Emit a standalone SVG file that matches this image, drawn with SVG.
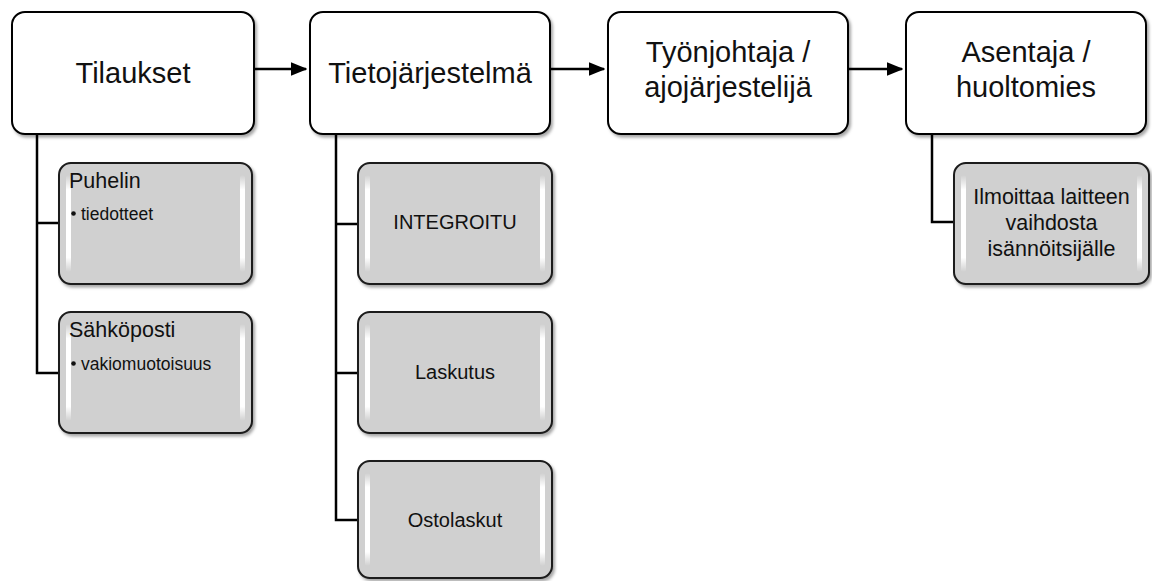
<svg xmlns="http://www.w3.org/2000/svg" width="1152" height="581" viewBox="0 0 1152 581">
  <defs>
    <filter id="shadow" x="-10%" y="-10%" width="125%" height="125%">
      <feDropShadow dx="2" dy="2.5" stdDeviation="1.5" flood-color="#000" flood-opacity="0.35"/>
    </filter>
    <linearGradient id="gloss" x1="0" y1="0" x2="0" y2="1">
      <stop offset="0" stop-color="#fff" stop-opacity="0"/>
      <stop offset="0.15" stop-color="#fff" stop-opacity="1"/>
      <stop offset="0.85" stop-color="#fff" stop-opacity="1"/>
      <stop offset="1" stop-color="#fff" stop-opacity="0"/>
    </linearGradient>
    <marker id="arrow" viewBox="0 0 12 10" refX="11" refY="5" markerWidth="6.6" markerHeight="5.6" orient="auto" markerUnits="strokeWidth">
      <path d="M0,0 L12,5 L0,10 z" fill="#000"/>
    </marker>
  </defs>
  <style>
    .main { fill: #fff; stroke: #000; stroke-width: 2; }
    .sub { fill: #d0d0d0; stroke: #1a1a1a; stroke-width: 2; }
    .hl { fill: url(#gloss); }
    .conn { fill: none; stroke: #000; stroke-width: 2.5; }
    .flow { fill: none; stroke: #000; stroke-width: 2.5; marker-end: url(#arrow); }
    text { font-family: "Liberation Sans", Arial, sans-serif; fill: #111; }
    .big { font-size: 29px; text-anchor: middle; }
    .mid { font-size: 20px; text-anchor: middle; }
    .two { font-size: 21.5px; text-anchor: middle; }
    .head { font-size: 21.5px; }
    .bul { font-size: 17.5px; }
    .dot { fill: #111; }
  </style>

  <!-- connectors -->
  <g id="connectors">
    <path class="flow" d="M254,69 H306"/>
    <path class="flow" d="M550,69 H604"/>
    <path class="flow" d="M848,69 H902"/>
    <path class="conn" d="M37,134 V373 H59 M37,223 H59"/>
    <path class="conn" d="M336,134 V520 H358 M336,224 H358 M336,373 H358"/>
    <path class="conn" d="M932,134 V222 H954"/>
  </g>

  <!-- top level -->
  <g id="tilaukset">
    <rect class="main" filter="url(#shadow)" x="12" y="12" width="242" height="122" rx="13"/>
    <text class="big" x="133" y="83">Tilaukset</text>
  </g>
  <g id="tietojarjestelma">
    <rect class="main" filter="url(#shadow)" x="310" y="12" width="240" height="122" rx="13"/>
    <text class="big" x="430" y="83">Tietojärjestelmä</text>
  </g>
  <g id="tyonjohtaja">
    <rect class="main" filter="url(#shadow)" x="608" y="12" width="240" height="122" rx="13"/>
    <text class="big" x="728" y="62">Työnjohtaja /</text>
    <text class="big" x="728" y="97">ajojärjestelijä</text>
  </g>
  <g id="asentaja">
    <rect class="main" filter="url(#shadow)" x="906" y="12" width="240" height="122" rx="13"/>
    <text class="big" x="1026" y="62">Asentaja /</text>
    <text class="big" x="1026" y="97">huoltomies</text>
  </g>

  <!-- Tilaukset children -->
  <g id="puhelin">
    <rect class="sub" filter="url(#shadow)" x="59" y="163" width="193" height="121" rx="12"/>
    <rect class="hl" x="66" y="175" width="5" height="97" rx="2.5"/>
    <rect class="hl" x="240" y="175" width="5" height="97" rx="2.5"/>
    <text class="head" x="69" y="188">Puhelin</text>
    <circle class="dot" cx="73.5" cy="213.5" r="2.3"/>
    <text class="bul" x="81" y="220">tiedotteet</text>
  </g>
  <g id="sahkoposti">
    <rect class="sub" filter="url(#shadow)" x="59" y="312" width="193" height="121" rx="12"/>
    <rect class="hl" x="66" y="324" width="5" height="97" rx="2.5"/>
    <rect class="hl" x="240" y="324" width="5" height="97" rx="2.5"/>
    <text class="head" x="69" y="337">Sähköposti</text>
    <circle class="dot" cx="73.5" cy="363.5" r="2.3"/>
    <text class="bul" x="81" y="370">vakiomuotoisuus</text>
  </g>

  <!-- Tietojärjestelmä children -->
  <g id="integroitu">
    <rect class="sub" filter="url(#shadow)" x="358" y="163" width="194" height="121" rx="12"/>
    <rect class="hl" x="365" y="175" width="5" height="97" rx="2.5"/>
    <rect class="hl" x="540" y="175" width="5" height="97" rx="2.5"/>
    <text class="mid" x="455" y="229">INTEGROITU</text>
  </g>
  <g id="laskutus">
    <rect class="sub" filter="url(#shadow)" x="358" y="312" width="194" height="121" rx="12"/>
    <rect class="hl" x="365" y="324" width="5" height="97" rx="2.5"/>
    <rect class="hl" x="540" y="324" width="5" height="97" rx="2.5"/>
    <text class="mid" x="455" y="379">Laskutus</text>
  </g>
  <g id="ostolaskut">
    <rect class="sub" filter="url(#shadow)" x="358" y="461" width="194" height="117" rx="12"/>
    <rect class="hl" x="365" y="473" width="5" height="93" rx="2.5"/>
    <rect class="hl" x="540" y="473" width="5" height="93" rx="2.5"/>
    <text class="mid" x="455" y="527">Ostolaskut</text>
  </g>

  <!-- Asentaja child -->
  <g id="ilmoittaa">
    <rect class="sub" filter="url(#shadow)" x="954" y="163" width="195" height="121" rx="12"/>
    <rect class="hl" x="961" y="175" width="5" height="97" rx="2.5"/>
    <rect class="hl" x="1137" y="175" width="5" height="97" rx="2.5"/>
    <text class="two" x="1051.5" y="204">Ilmoittaa laitteen</text>
    <text class="two" x="1051.5" y="230">vaihdosta</text>
    <text class="two" x="1051.5" y="256">isännöitsijälle</text>
  </g>
</svg>
